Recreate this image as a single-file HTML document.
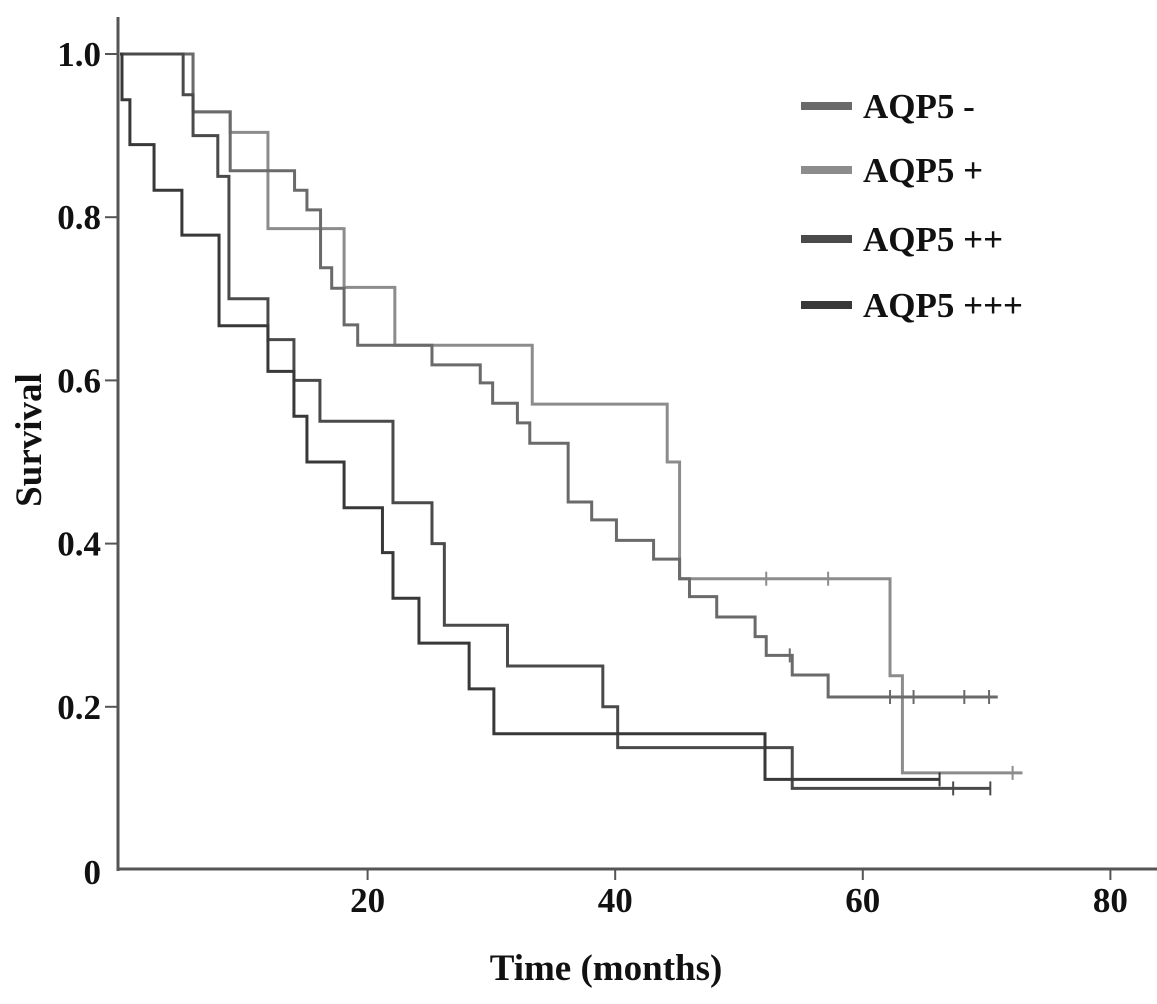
<!DOCTYPE html>
<html><head><meta charset="utf-8">
<style>
html,body{margin:0;padding:0;background:#fff;}
svg{display:block;}
text{font-family:"Liberation Serif",serif;font-weight:bold;fill:#111;}
</style></head>
<body>
<svg id="chart" width="1157" height="1004" viewBox="0 0 1157 1004" xmlns="http://www.w3.org/2000/svg">
<g id="axes"></g>
<g id="curves"></g>
<g id="legend"></g>
<text x="0" y="0" font-size="37" text-anchor="middle" transform="translate(41,440) rotate(-90)">Survival</text>
<text x="606" y="980" font-size="37" text-anchor="middle">Time (months)</text>
</svg>
<script>
const xTicks = [20, 40, 60, 80];
const yTicks = [0, 0.2, 0.4, 0.6, 0.8, 1.0];
const yTickLabels = ["0", "0.2", "0.4", "0.6", "0.8", "1.0"];
const seriesNames = ["AQP5 -", "AQP5 +", "AQP5 ++", "AQP5 +++"];
const seriesColors = ["#6a6a6a", "#8c8c8c", "#4a4a4a", "#383838"];

const negTimes = [5.9, 8.9, 14.1, 15.1, 16.2, 17.1, 18.1, 19.2, 25.2, 29.1, 30.1, 32.1, 33.1, 36.2, 38.1, 40.1, 43.1, 45.2, 46.0, 48.2, 51.3, 52.2, 54.3, 57.2];
const negVals = [0.929, 0.857, 0.833, 0.809, 0.738, 0.713, 0.668, 0.643, 0.619, 0.597, 0.572, 0.548, 0.523, 0.451, 0.429, 0.404, 0.381, 0.357, 0.335, 0.31, 0.286, 0.263, 0.239, 0.212];
const negEnd = 70.9;
const negCensor = [54.1, 62.2, 64.1, 68.2, 70.2];

const posTimes = [5.9, 8.9, 11.95, 18.1, 22.2, 33.3, 44.2, 45.2, 62.2, 63.2];
const posVals = [0.929, 0.904, 0.786, 0.714, 0.643, 0.571, 0.5, 0.357, 0.238, 0.119];
const posEnd = 72.9;
const posCensor = [52.2, 57.2, 72.1];

const pp2Times = [5.1, 5.9, 7.9, 8.8, 11.95, 14.05, 16.15, 22.05, 25.2, 26.2, 31.3, 39.0, 40.2, 54.3];
const pp2Vals = [0.95, 0.90, 0.85, 0.70, 0.65, 0.60, 0.55, 0.45, 0.40, 0.30, 0.25, 0.20, 0.15, 0.10];
const pp2End = 70.3;
const pp2Censor = [67.3, 70.3];

const pp3Times = [0.16, 0.8, 2.75, 5.0, 8.0, 11.95, 14.05, 15.1, 18.1, 21.2, 22.05, 24.15, 28.2, 30.2, 52.1];
const pp3Vals = [0.944, 0.889, 0.833, 0.778, 0.667, 0.611, 0.556, 0.5, 0.444, 0.389, 0.333, 0.278, 0.222, 0.167, 0.111];
const pp3End = 66.2;
const pp3Censor = [66.2];

const X0 = 120, XS = 12.38, Y0 = 870, YS = 816;
function xs(t){ return X0 + XS * t; }
function ys(v){ return Y0 - YS * v; }
const NS = "http://www.w3.org/2000/svg";
function mk(tag, parent){ const e = document.createElementNS(NS, tag); parent.appendChild(e); return e; }

const axes = document.getElementById('axes');
const yAxis = mk('line', axes);


yAxis.setAttribute('x1', 118); yAxis.setAttribute('x2', 118); yAxis.setAttribute('y1', 17); yAxis.setAttribute('y2', 871);
yAxis.setAttribute('stroke', '#555'); yAxis.setAttribute('stroke-width', 3);
const xAxis = mk('line', axes);


xAxis.setAttribute('x1', 117); xAxis.setAttribute('x2', 1157); xAxis.setAttribute('y1', 869); xAxis.setAttribute('y2', 869);
xAxis.setAttribute('stroke', '#555'); xAxis.setAttribute('stroke-width', 3);

yTicks.forEach((v, i) => {
  const y = ys(v);
  if (v > 0) {
    const tk = mk('line', axes);
    
    
    tk.setAttribute('x1', 105); tk.setAttribute('x2', 118); tk.setAttribute('y1', y); tk.setAttribute('y2', y);
    tk.setAttribute('stroke', '#555'); tk.setAttribute('stroke-width', 2);
  }
  const lb = mk('text', axes);
  
  
  lb.setAttribute('x', 101); lb.setAttribute('y', v > 0 ? y + 12 : y + 14);
  lb.setAttribute('font-size', 35); lb.setAttribute('text-anchor', 'end');
  lb.textContent = yTickLabels[i];
});
xTicks.forEach(t => {
  const x = xs(t);
  const tk = mk('line', axes);
  
  
  tk.setAttribute('x1', x); tk.setAttribute('x2', x); tk.setAttribute('y1', 869); tk.setAttribute('y2', 880);
  tk.setAttribute('stroke', '#555'); tk.setAttribute('stroke-width', 2);
  const lb = mk('text', axes);
  
  
  lb.setAttribute('x', x); lb.setAttribute('y', 912);
  lb.setAttribute('font-size', 35); lb.setAttribute('text-anchor', 'middle');
  lb.textContent = String(t);
});

const curves = document.getElementById('curves');
function drawSeries(name, color, times, vals, end, censor){
  let d = 'M' + xs(0) + ' ' + ys(1);
  for (let i = 0; i < times.length; i++) {
    d += ' H' + xs(times[i]) + ' V' + ys(vals[i]);
  }
  d += ' H' + xs(end);
  const p = mk('path', curves);
  
  
  p.setAttribute('d', d); p.setAttribute('fill', 'none');
  p.setAttribute('stroke', color); p.setAttribute('stroke-width', 3);
  censor.forEach(t => {
    let cv = 1;
    for (let i = 0; i < times.length; i++) if (times[i] <= t) cv = vals[i];
    const c = mk('line', curves);
    
    
    c.setAttribute('x1', xs(t)); c.setAttribute('x2', xs(t));
    c.setAttribute('y1', ys(cv) - 7); c.setAttribute('y2', ys(cv) + 7);
    c.setAttribute('stroke', color); c.setAttribute('stroke-width', 2);
  });
}
drawSeries('aqp5-pos', seriesColors[1], posTimes, posVals, posEnd, posCensor);
drawSeries('aqp5-neg', seriesColors[0], negTimes, negVals, negEnd, negCensor);
drawSeries('aqp5-pp', seriesColors[2], pp2Times, pp2Vals, pp2End, pp2Censor);
drawSeries('aqp5-ppp', seriesColors[3], pp3Times, pp3Vals, pp3End, pp3Censor);

const legend = document.getElementById('legend');
const legY = [106, 170, 239, 305];
seriesNames.forEach((n, i) => {
  const g = mk('g', legend);
  
  
  const l = mk('line', g);
  
  
  l.setAttribute('x1', 801); l.setAttribute('x2', 852); l.setAttribute('y1', legY[i]); l.setAttribute('y2', legY[i]);
  l.setAttribute('stroke', seriesColors[i]); l.setAttribute('stroke-width', 8);
  const t = mk('text', g);
  
  
  t.setAttribute('x', 863); t.setAttribute('y', legY[i] + 12);
  t.setAttribute('font-size', 35);
  t.textContent = n;
});
</script>
</body></html>
